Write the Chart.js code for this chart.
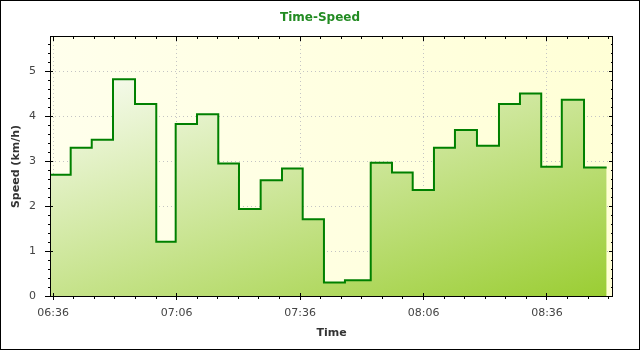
<!DOCTYPE html>
<html>
<head>
<meta charset="utf-8">
<script src="https://cdn.jsdelivr.net/npm/chart.js@4/dist/chart.umd.min.js"></script>
<style>
html,body{margin:0;padding:0;background:#fff;}
#wrap{width:640px;height:350px;}
</style>
</head>
<body>
<div id="wrap"><canvas id="c" width="640" height="350"></canvas></div>
<script>
// ---- data ----
const times = ['06:35:28','06:40:15','06:45:22','06:50:32','06:55:53','07:01:03','07:05:46','07:10:57',
  '07:16:07','07:21:09','07:26:25','07:31:36','07:36:38','07:41:48','07:46:54','07:53:10','07:58:20',
  '08:03:22','08:08:32','08:13:38','08:18:59','08:24:20','08:29:26','08:34:36','08:39:36','08:45:00','08:50:30'];
const speeds = [2.70,3.30,3.48,4.83,4.28,1.21,3.83,4.05,2.95,1.94,2.58,2.84,1.71,0.30,0.35,2.97,2.75,
  2.36,3.30,3.70,3.35,4.28,4.51,2.88,4.37,2.86,2.86];
const xTickLabels = ['06:36','07:06','07:36','08:06','08:36'];
const yTickLabels = ['0','1','2','3','4','5'];
const xRangeEnd = '08:51:48';
const yMax = 5.77;
const xMinorStep = 5;
const yMinorStep = 0.2;

function toMin(s){ const p = s.split(':').map(Number); return p[0]*60 + p[1] + (p[2]||0)/60; }
const xTickValues = xTickLabels.map(toMin);
const yTickValues = yTickLabels.map(Number);
const isMajorX = v => xTickValues.some(t => Math.abs(t - v) < 1e-6);
const isMajorY = v => yTickValues.some(t => Math.abs(t - v) < 1e-6);
const points = times.map((t, i) => ({x: toMin(t), y: speeds[i]}));

Chart.defaults.font.family = "'DejaVu Sans', sans-serif";

const al = p => Math.round(p - 0.5) + 0.5;

const decor = {
  id: 'decor',
  beforeDraw(chart) {
    const {ctx, chartArea: a} = chart;
    ctx.save();
    ctx.fillStyle = '#ffffff';
    ctx.fillRect(0, 0, chart.width, chart.height);
    const g = ctx.createLinearGradient(a.left, a.top, a.right, a.top);
    g.addColorStop(0, '#ffffec');
    g.addColorStop(1, '#ffffd6');
    ctx.fillStyle = g;
    ctx.fillRect(a.left, a.top, a.right - a.left, a.bottom - a.top);
    ctx.restore();
  },
  afterDraw(chart) {
    const {ctx, chartArea: a} = chart;
    const xs = chart.scales.x, ys = chart.scales.y;
    ctx.save();
    ctx.strokeStyle = '#000';
    ctx.lineWidth = 1;
    ctx.strokeRect(0.5, 0.5, chart.width - 1, chart.height - 1);
    ctx.strokeRect(a.left - 0.5, a.top - 0.5, a.right - a.left + 1, a.bottom - a.top + 1);
    ctx.beginPath();
    xs.ticks.forEach(t => {
      const px = al(xs.getPixelForValue(t.value));
      const m = isMajorX(t.value);
      ctx.moveTo(px, m ? a.bottom - 3 : a.bottom);
      ctx.lineTo(px, m ? a.bottom + 4 : a.bottom + 3);
      ctx.moveTo(px, a.top);
      ctx.lineTo(px, m ? a.top + 4 : a.top + 2);
    });
    ys.ticks.forEach(t => {
      const py = al(ys.getPixelForValue(t.value));
      const m = isMajorY(t.value);
      ctx.moveTo(m ? a.left - 6 : a.left - 3, py);
      ctx.lineTo(m ? a.left + 2 : a.left, py);
      ctx.moveTo(a.right + 1, py);
      ctx.lineTo(m ? a.right - 3 : a.right - 1, py);
    });
    ctx.stroke();
    ctx.restore();
  }
};

new Chart(document.getElementById('c'), {
  type: 'line',
  data: {
    datasets: [{
      data: points,
      stepped: true,
      borderColor: '#008000',
      borderWidth: 2,
      pointRadius: 0,
      fill: 'origin',
      backgroundColor: (ctx) => {
        const a = ctx.chart.chartArea;
        if (!a) return '#cfe8a0';
        const w = a.right - a.left, h = a.bottom - a.top;
        const g = ctx.chart.ctx.createLinearGradient(a.left + 0.77 * w, a.top - 0.49 * h, a.right, a.bottom);
        g.addColorStop(0, '#ffffff');
        g.addColorStop(1, '#9acd32');
        return g;
      }
    }]
  },
  options: {
    responsive: false,
    animation: false,
    devicePixelRatio: 1,
    layout: {padding: 0},
    plugins: {
      legend: {display: false},
      tooltip: {enabled: false},
      title: {
        display: true,
        text: 'Time-Speed',
        color: '#228b22',
        font: {size: 12, weight: 'bold', lineHeight: 1.2},
        padding: {top: 10.5, bottom: 12.1}
      }
    },
    scales: {
      x: {
        type: 'linear',
        min: toMin(times[0]),
        max: toMin(xRangeEnd),
        afterBuildTicks: (s) => {
          const ticks = [];
          let v = xTickValues[0];
          while (v - xMinorStep >= s.min) v -= xMinorStep;
          for (; v <= s.max + 1e-9; v += xMinorStep) ticks.push({value: v});
          s.ticks = ticks;
        },
        afterFit: (s) => { s.height = 54; },
        ticks: {
          autoSkip: false,
          maxRotation: 0,
          padding: 11,
          color: '#444',
          font: {size: 11},
          callback: (v) => { const i = xTickValues.findIndex(t => Math.abs(t - v) < 1e-6); return i >= 0 ? xTickLabels[i] : ''; }
        },
        grid: {
          drawTicks: false,
          lineWidth: 1,
          color: (c) => (c.tick && isMajorX(c.tick.value)) ? '#c4c4c4' : 'rgba(0,0,0,0)'
        },
        border: {display: false, dash: [1, 3]},
        title: {
          display: true,
          text: 'Time',
          color: '#333',
          font: {size: 11, weight: 'bold', lineHeight: 1.2},
          padding: {top: 4, bottom: 10}
        }
      },
      y: {
        type: 'linear',
        min: 0,
        max: yMax,
        afterFit: (s) => { s.width = 51; },
        ticks: {
          stepSize: yMinorStep,
          includeBounds: false,
          autoSkip: false,
          padding: 15,
          color: '#444',
          font: {size: 11},
          callback: (v) => { const i = yTickValues.findIndex(t => Math.abs(t - v) < 1e-6); return i >= 0 ? yTickLabels[i] : ''; }
        },
        grid: {
          drawTicks: false,
          lineWidth: 1,
          color: (c) => (c.tick && isMajorY(c.tick.value) && c.tick.value > 0) ? '#c4c4c4' : 'rgba(0,0,0,0)'
        },
        border: {display: false, dash: [1, 3]},
        title: {
          display: true,
          text: 'Speed (km/h)',
          color: '#333',
          font: {size: 11, weight: 'bold', lineHeight: 1.2},
          padding: {top: 9.4, bottom: 4}
        }
      },
      yr: {
        type: 'linear',
        position: 'right',
        display: true,
        ticks: {display: false},
        grid: {display: false, drawTicks: false},
        border: {display: false},
        afterFit: (s) => { s.width = 28; }
      }
    }
  },
  plugins: [decor]
});
</script>
</body>
</html>
